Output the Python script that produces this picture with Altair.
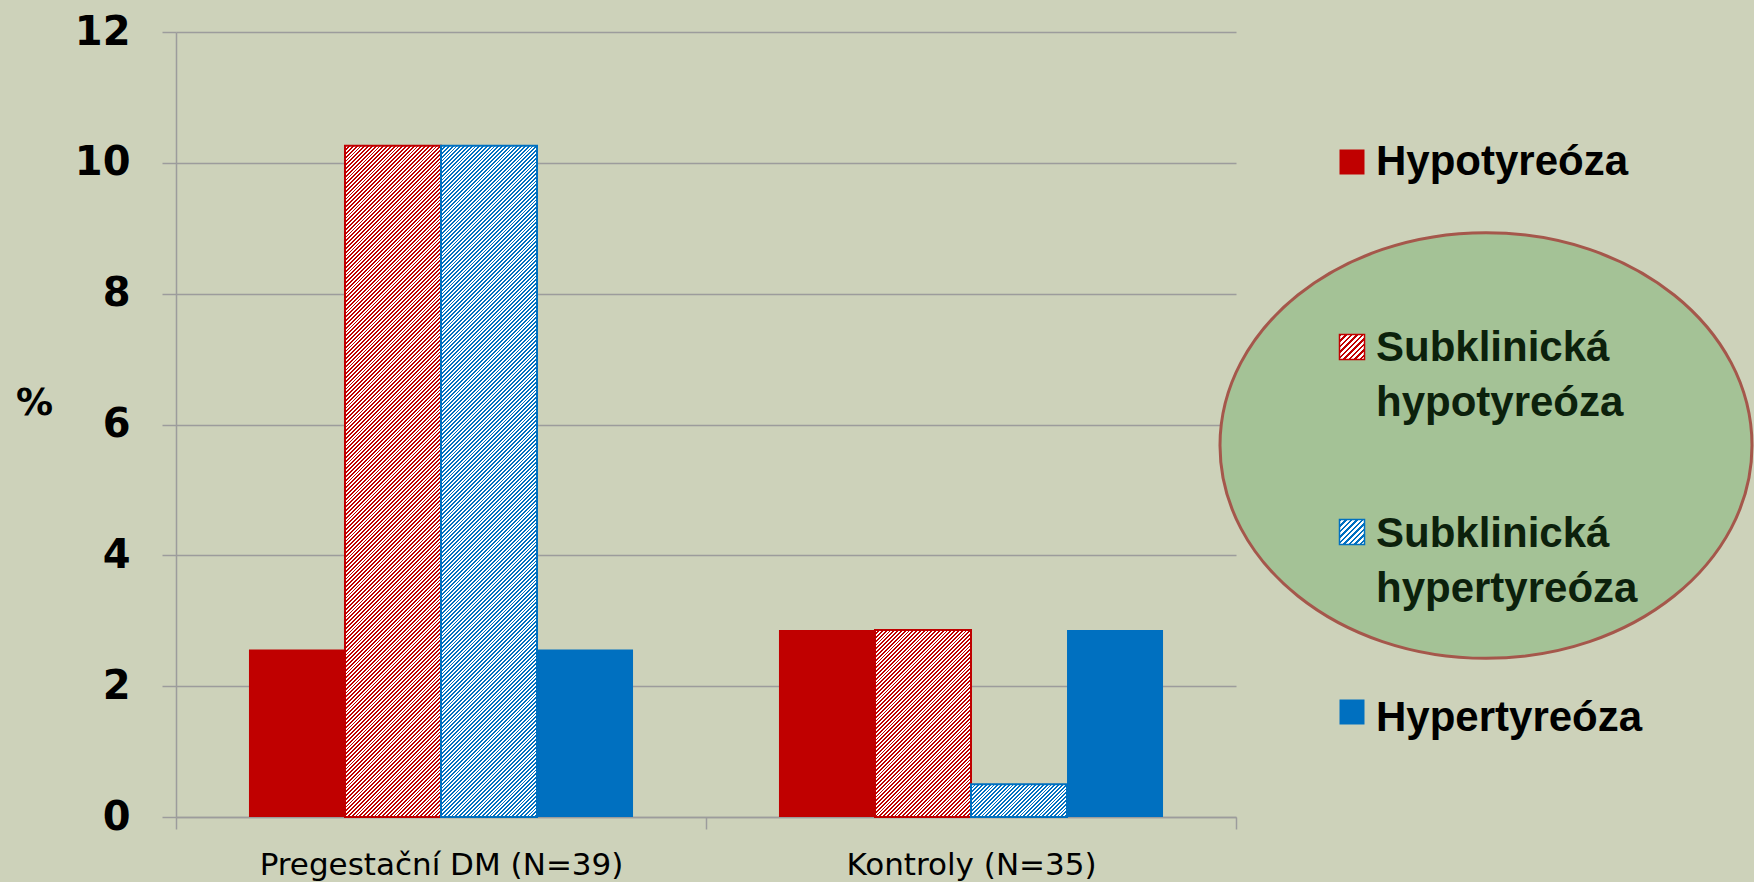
import altair as alt
import pandas as pd

# ---- data -------------------------------------------------------------
groups = ["Pregestační DM (N=39)", "Kontroly (N=35)"]
series = ["Hypotyreóza", "Subklinická hypotyreóza", "Subklinická hypertyreóza", "Hypertyreóza"]
pregestacni = [2.56, 10.26, 10.26, 2.56]
kontroly = [2.86, 2.86, 0.5, 2.86]
y_ticks = [0, 2, 4, 6, 8, 10, 12]
legend_lines = [["Hypotyreóza"], ["Subklinická", "hypotyreóza"],
                ["Subklinická", "hypertyreóza"], ["Hypertyreóza"]]

# ---- styling ----------------------------------------------------------
RED, BLUE = "#c00000", "#0070c0"
series_colors = [RED, RED, BLUE, BLUE]
hatched = [False, True, True, False]
BG = "#cdd2ba"
GRID = "#9c9c9c"

# layout (pixels)
PAD_L, PAD_T = 176, 32
PLOT_W, PLOT_H = 1060, 785
TOTAL_W, TOTAL_H = 1754, 882
Y_MAX = 12
OFFSET_OUTER = 0.76
BAR_W = PLOT_W / len(groups) / (len(series) + 2 * OFFSET_OUTER)

rows = []
for g, vals in zip(groups, [pregestacni, kontroly]):
    for s, v in zip(series, vals):
        rows.append({"group": g, "series": s, "value": v})
df = pd.DataFrame(rows)


def stripes(color, w, h, period):
    """Diagonal '/' hatch as a hard-stop linear gradient in bbox units."""
    span = w + h
    p = period / span
    n = int(span / period) + 2
    stops = []
    for k in range(n):
        a = k * p
        for off, c in [(a, color), (a + p / 2, color), (a + p / 2, "#ffffff"), (a + p, "#ffffff")]:
            stops.append(alt.GradientStop(offset=min(off, 1.0), color=c))
    d = w * w + h * h
    return alt.LinearGradient(gradient="linear", stops=stops, x1=0, y1=0,
                              x2=w * span / d, y2=h * span / d)


x_enc = alt.X(
    "group:N", sort=groups,
    scale=alt.Scale(domain=groups, paddingInner=0, paddingOuter=0),
    axis=alt.Axis(title=None, labelAngle=0, tickBand="extent", tickSize=12,
                  tickColor=GRID, tickWidth=1.5, domainColor=GRID, domainWidth=1.5,
                  labelFont="DejaVu Sans", labelFontSize=31, labelColor="#000000",
                  labelPadding=21, labelFontWeight="normal", labelLimit=0),
)
xo_enc = alt.XOffset("series:N", sort=series,
                     scale=alt.Scale(domain=series, paddingInner=0, paddingOuter=OFFSET_OUTER))
y_enc = alt.Y(
    "value:Q",
    scale=alt.Scale(domain=[0, Y_MAX], nice=False),
    axis=alt.Axis(values=y_ticks, grid=True, gridColor=GRID, gridWidth=1.5,
                  tickSize=14, tickColor=GRID, tickWidth=1.5,
                  domainColor=GRID, domainWidth=1.5,
                  labelFont="DejaVu Sans", labelFontSize=40, labelFontWeight="bold",
                  labelColor="#000000", labelPadding=32,
                  title="%", titleAngle=0, titleX=34 - PAD_L, titleY=403 - PAD_T,
                  titleAlign="center", titleBaseline="middle",
                  titleFont="DejaVu Sans", titleFontSize=37, titleFontWeight="bold",
                  titleColor="#000000"),
)

solid_series = [s for s, h in zip(series, hatched) if not h]
layers = [
    alt.Chart(df)
    .transform_filter(alt.FieldOneOfPredicate(field="series", oneOf=solid_series))
    .mark_bar()
    .encode(x=x_enc, xOffset=xo_enc, y=y_enc,
            color=alt.Color("series:N", scale=alt.Scale(domain=series, range=series_colors),
                            legend=None))
]

# hatched bars: one layer per bar so each gets a gradient sized to its own box
for r in rows:
    i = series.index(r["series"])
    if not hatched[i]:
        continue
    h_px = r["value"] * PLOT_H / Y_MAX
    grad = stripes(series_colors[i], BAR_W, h_px, 3.8)
    layers.append(
        alt.Chart(df)
        .transform_filter((alt.datum.group == r["group"]) & (alt.datum.series == r["series"]))
        .mark_bar(fill=grad, stroke=series_colors[i], strokeWidth=2)
        .encode(x=x_enc, xOffset=xo_enc, y=y_enc)
    )

# highlight ellipse behind the two subclinical legend entries
one = pd.DataFrame({"k": [0]})
ELLIPSE = ("M -1 0 C -1 -0.4418 -0.5523 -0.8 0 -0.8 C 0.5523 -0.8 1 -0.4418 1 0 "
           "C 1 0.4418 0.5523 0.8 0 0.8 C -0.5523 0.8 -1 0.4418 -1 0 Z")
layers.append(
    alt.Chart(one).mark_point(shape=ELLIPSE, size=532 ** 2, filled=True, fill="#a4c296",
                              stroke="#a5574b", strokeWidth=3, opacity=1)
    .encode(x=alt.value(1486 - PAD_L), y=alt.value(445.5 - PAD_T))
)

# legend
sq_x = 1352 - PAD_L
txt_x = 1376 - PAD_L
sq_y = [162, 347, 532, 712]
line_y = [[175], [361, 416], [547, 602], [731]]
text_colors = ["#000000", "#0c210c", "#0c210c", "#000000"]
for i, s in enumerate(series):
    fill = stripes(series_colors[i], 25, 25, 5.5) if hatched[i] else series_colors[i]
    layers.append(
        alt.Chart(one).mark_square(size=625, fill=fill, stroke=series_colors[i],
                                   strokeWidth=1.5 if hatched[i] else 0, opacity=1)
        .encode(x=alt.value(sq_x), y=alt.value(sq_y[i] - PAD_T))
    )
    for line, ly in zip(legend_lines[i], line_y[i]):
        layers.append(
            alt.Chart(pd.DataFrame({"t": [line]}))
            .mark_text(align="left", baseline="alphabetic", font="Liberation Sans",
                       fontSize=42, fontWeight="bold", color=text_colors[i])
            .encode(text="t:N", x=alt.value(txt_x), y=alt.value(ly - PAD_T))
        )

chart = (
    alt.layer(*layers)
    .properties(
        width=PLOT_W, height=PLOT_H,
        autosize=alt.AutoSizeParams(type="none"),
        padding={"left": PAD_L, "top": PAD_T,
                 "right": TOTAL_W - PAD_L - PLOT_W, "bottom": TOTAL_H - PAD_T - PLOT_H},
        background=BG,
    )
    .configure_view(strokeWidth=0)
)

chart.save("out.html", embed_options={"renderer": "svg", "actions": False})
